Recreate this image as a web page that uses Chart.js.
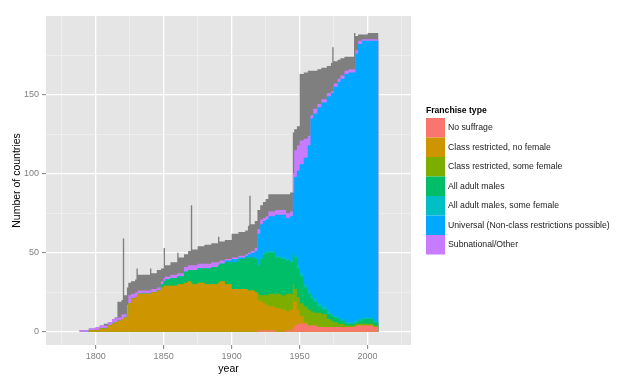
<!DOCTYPE html>
<html>
<head>
<meta charset="utf-8">
<script src="https://cdn.jsdelivr.net/npm/chart.js@4.4.1/dist/chart.umd.min.js"></script>
<style>
  body { margin: 0; background: #ffffff; }
  canvas { display: block; }
</style>
</head>
<body>
<canvas id="myChart" width="640" height="384"></canvas>
<script>
// Years where the counts change (each value holds until the next year listed)
const years = [1788, 1795, 1800, 1803, 1806, 1809, 1812, 1814, 1816, 1819, 1820, 1821, 1823, 1824, 1826, 1829, 1830, 1831, 1840, 1841, 1845, 1848, 1850, 1851, 1855, 1860, 1861, 1865, 1868, 1870, 1871, 1875, 1880, 1885, 1890, 1891, 1895, 1900, 1905, 1910, 1912, 1913, 1914, 1917, 1919, 1921, 1923, 1925, 1927, 1932, 1936, 1940, 1943, 1945, 1946, 1948, 1950, 1953, 1956, 1958, 1960, 1963, 1966, 1970, 1973, 1974, 1975, 1978, 1980, 1983, 1986, 1990, 1991, 1993, 1996, 2000, 2004, 2008];

// Number of countries per franchise type
const noSuffrage =           [0, 0, 0, 0, 0, 0, 0, 0, 0, 0, 0, 0, 0, 0, 0, 0, 0, 0, 0, 0, 0, 0, 0, 0, 0, 0, 0, 0, 0, 0, 0, 0, 0, 0, 0, 0, 0, 0, 0, 0, 0, 0, 0, 0, 1, 1, 1, 1, 1, 0, 0, 1, 1, 2, 4, 5, 5, 5, 4, 4, 4, 3, 3, 3, 3, 3, 3, 3, 3, 3, 3, 3, 4, 4, 4, 4, 3, 1];
const classNoFemale =        [0, 1, 1, 2, 2, 4, 5, 6, 7, 8, 8, 9, 11, 18, 21, 22, 22, 24, 24, 25, 26, 28, 29, 29, 29, 30, 30, 31, 32, 31, 30, 31, 30, 30, 31, 32, 30, 27, 27, 27, 26, 26, 26, 25, 19, 18, 17, 16, 15, 15, 14, 12, 13, 18, 15, 9, 5, 1, 0, 0, 0, 0, 0, 0, 0, 0, 0, 0, 0, 0, 0, 0, 0, 0, 0, 0, 0, 0];
const classSomeFemale =      [0, 0, 0, 0, 0, 0, 0, 0, 0, 0, 0, 0, 0, 0, 0, 0, 0, 0, 0, 0, 0, 0, 0, 0, 0, 0, 0, 0, 0, 0, 0, 0, 0, 0, 0, 0, 0, 0, 0, 0, 0, 0, 0, 0, 4, 4, 5, 6, 8, 9, 9, 11, 10, 10, 8, 8, 8, 10, 10, 9, 8, 9, 8, 5, 4, 4, 3, 2, 2, 1, 1, 1, 1, 1, 1, 1, 1, 1];
const allAdultMales =        [0, 0, 0, 0, 0, 0, 0, 0, 0, 0, 0, 0, 0, 0, 0, 0, 0, 0, 0, 0, 0, 2, 3, 4, 5, 5, 5, 7, 7, 8, 9, 9, 10, 11, 11, 11, 14, 17, 19, 20, 21, 21, 21, 21, 18, 23, 26, 27, 26, 23, 23, 21, 20, 19, 20, 18, 17, 12, 10, 8, 7, 4, 3, 3, 3, 3, 3, 3, 2, 1, 1, 1, 1, 2, 3, 3, 2, 2];
const adultMalesSomeFemale = [0, 0, 0, 0, 0, 0, 0, 0, 0, 0, 0, 0, 0, 0, 0, 0, 0, 0, 0, 0, 0, 0, 0, 0, 0, 0, 0, 0, 0, 0, 0, 0, 0, 0, 0, 0, 0, 0, 0, 0, 0, 0, 0, 1, 1, 1, 1, 1, 1, 1, 1, 1, 1, 1, 1, 2, 2, 2, 2, 2, 2, 2, 2, 2, 1, 1, 1, 1, 1, 1, 1, 1, 1, 1, 1, 1, 1, 1];
const universal =            [0, 0, 0, 0, 0, 0, 0, 0, 0, 0, 0, 0, 0, 0, 0, 0, 0, 0, 0, 0, 0, 0, 0, 0, 0, 0, 0, 0, 0, 0, 0, 0, 0, 0, 0, 0, 1, 2, 1, 1, 2, 2, 3, 4, 19, 21, 20, 20, 22, 26, 27, 26, 28, 38, 50, 60, 69, 80, 92, 112, 117, 124, 129, 136, 140, 140, 145, 149, 152, 157, 158, 158, 169, 174, 175, 175, 177, 178];
const subnational =          [1, 1, 2, 2, 2, 2, 3, 3, 2, 3, 3, 2, 6, 5, 3, 3, 3, 2, 2, 2, 2, 2, 2, 2, 2, 2, 2, 3, 3, 3, 3, 3, 3, 3, 2, 2, 1, 1, 1, 1, 1, 1, 1, 2, 3, 3, 2, 2, 3, 3, 3, 3, 3, 12, 17, 16, 15, 12, 6, 2, 3, 2, 2, 2, 1, 1, 2, 2, 2, 2, 2, 2, 2, 2, 1, 1, 1, 1];
const unknownType =          [0, 0, 0, 0, 1, 0, 0, 0, 10, 9, 48, 12, 11, 8, 8, 8, 15, 10, 14, 10, 11, 8, 19, 7, 8, 13, 10, 8, 9, 38, 10, 11, 12, 12, 16, 12, 12, 15, 15, 15, 17, 36, 17, 17, 12, 9, 10, 11, 11, 10, 10, 12, 12, 26, 13, 12, 42, 42, 41, 28, 24, 22, 20, 17, 18, 28, 14, 12, 11, 9, 8, 23, 9, 4, 3, 4, 4, 5];

const seriesNames = ["No suffrage", "Class restricted, no female", "Class restricted, some female", "All adult males", "All adult males, some female", "Universal (Non-class restrictions possible)", "Subnational/Other"];
const seriesColors = ["#F8766D", "#CD9600", "#7CAE00", "#00BE67", "#00BFC4", "#00A9FF", "#C77CFF"];
const unknownColor = "#7F7F7F";

const xTicks = [1775, 1800, 1825, 1850, 1875, 1900, 1925, 1950, 1975, 2000, 2025];
const yTicks = [0, 25, 50, 75, 100, 125, 150, 175];

const allSeries = [noSuffrage, classNoFemale, classSomeFemale, allAdultMales, adultMalesSomeFemale, universal, subnational, unknownType];

Chart.defaults.font.family = '"Liberation Sans", Arial, sans-serif';

// grey panel behind the grid, like ggplot
const panelBackground = {
  id: "panelBackground",
  beforeDraw(chart) {
    const { ctx, chartArea } = chart;
    ctx.save();
    ctx.fillStyle = "#E5E5E5";
    ctx.fillRect(chartArea.left, chartArea.top, chartArea.right - chartArea.left, chartArea.bottom - chartArea.top);
    ctx.restore();
  },
};

// ggplot-style legend with touching colour keys
const franchiseLegend = {
  id: "franchiseLegend",
  afterDraw(chart) {
    const ctx = chart.ctx;
    const left = chart.chartArea.right + 15;
    ctx.save();
    ctx.textBaseline = "middle";
    ctx.fillStyle = "#000000";
    ctx.font = 'bold 8.6px "Liberation Sans", Arial, sans-serif';
    ctx.fillText("Franchise type", left, 110.5);
    ctx.font = '8.7px "Liberation Sans", Arial, sans-serif';
    seriesNames.forEach((name, i) => {
      const top = 118 + i * 19.5;
      ctx.fillStyle = seriesColors[i];
      ctx.fillRect(left, top, 19, 19.5);
      ctx.fillStyle = "#1A1A1A";
      ctx.fillText(name, left + 22, top + 10);
    });
    ctx.restore();
  },
};

const gridColor = (c) => (c.tick && c.tick.value % 50 === 0 ? "#FFFFFF" : "#F2F2F2");
const gridWidth = (c) => (c.tick && c.tick.value % 50 === 0 ? 1.3 : 0.7);
const tickColor = (c) => (c.tick && c.tick.value % 50 === 0 ? "#7F7F7F" : "rgba(0,0,0,0)");

const datasets = allSeries.map((values, i) => ({
  label: i < seriesNames.length ? seriesNames[i] : "NA",
  data: years.map((year, j) => ({ x: year, y: values[j] })),
  backgroundColor: i < seriesColors.length ? seriesColors[i] : unknownColor,
  borderColor: "rgba(0,0,0,0)",
  borderWidth: 0,
  pointRadius: 0,
  stepped: true,
  fill: "origin",
}));

new Chart(document.getElementById("myChart"), {
  type: "line",
  data: { datasets },
  plugins: [panelBackground, franchiseLegend],
  options: {
    responsive: false,
    animation: false,
    layout: { padding: { left: 0, top: 16, right: 229, bottom: 0 } },
    plugins: {
      legend: { display: false },
      tooltip: { enabled: false },
    },
    scales: {
      x: {
        type: "linear",
        min: 1763.5,
        max: 2031.9,
        afterFit: (scale) => { scale.height = 39; },
        afterBuildTicks: (scale) => { scale.ticks = xTicks.map((v) => ({ value: v })); },
        border: { display: false },
        grid: { color: gridColor, lineWidth: gridWidth, tickColor: tickColor, tickWidth: 1, tickLength: 4 },
        ticks: {
          color: "#7F7F7F",
          font: { size: 9 },
          padding: 2,
          maxRotation: 0,
          autoSkip: false,
          callback: (v) => (v % 50 === 0 ? String(v) : ""),
        },
        title: { display: true, text: "year", color: "#000000", font: { size: 10.5 }, padding: { top: 0, bottom: 9 } },
      },
      y: {
        stacked: true,
        min: -8.4,
        max: 199.7,
        afterFit: (scale) => { scale.width = 46; },
        afterBuildTicks: (scale) => { scale.ticks = yTicks.map((v) => ({ value: v })); },
        border: { display: false },
        grid: { color: gridColor, lineWidth: gridWidth, tickColor: tickColor, tickWidth: 1, tickLength: 4 },
        ticks: {
          color: "#7F7F7F",
          font: { size: 9 },
          padding: 3,
          callback: (v) => (v % 50 === 0 ? String(v) : ""),
        },
        title: { display: true, text: "Number of countries", color: "#000000", font: { size: 10.5 }, padding: { top: 11, bottom: 0 } },
      },
    },
  },
});
</script>
</body>
</html>
